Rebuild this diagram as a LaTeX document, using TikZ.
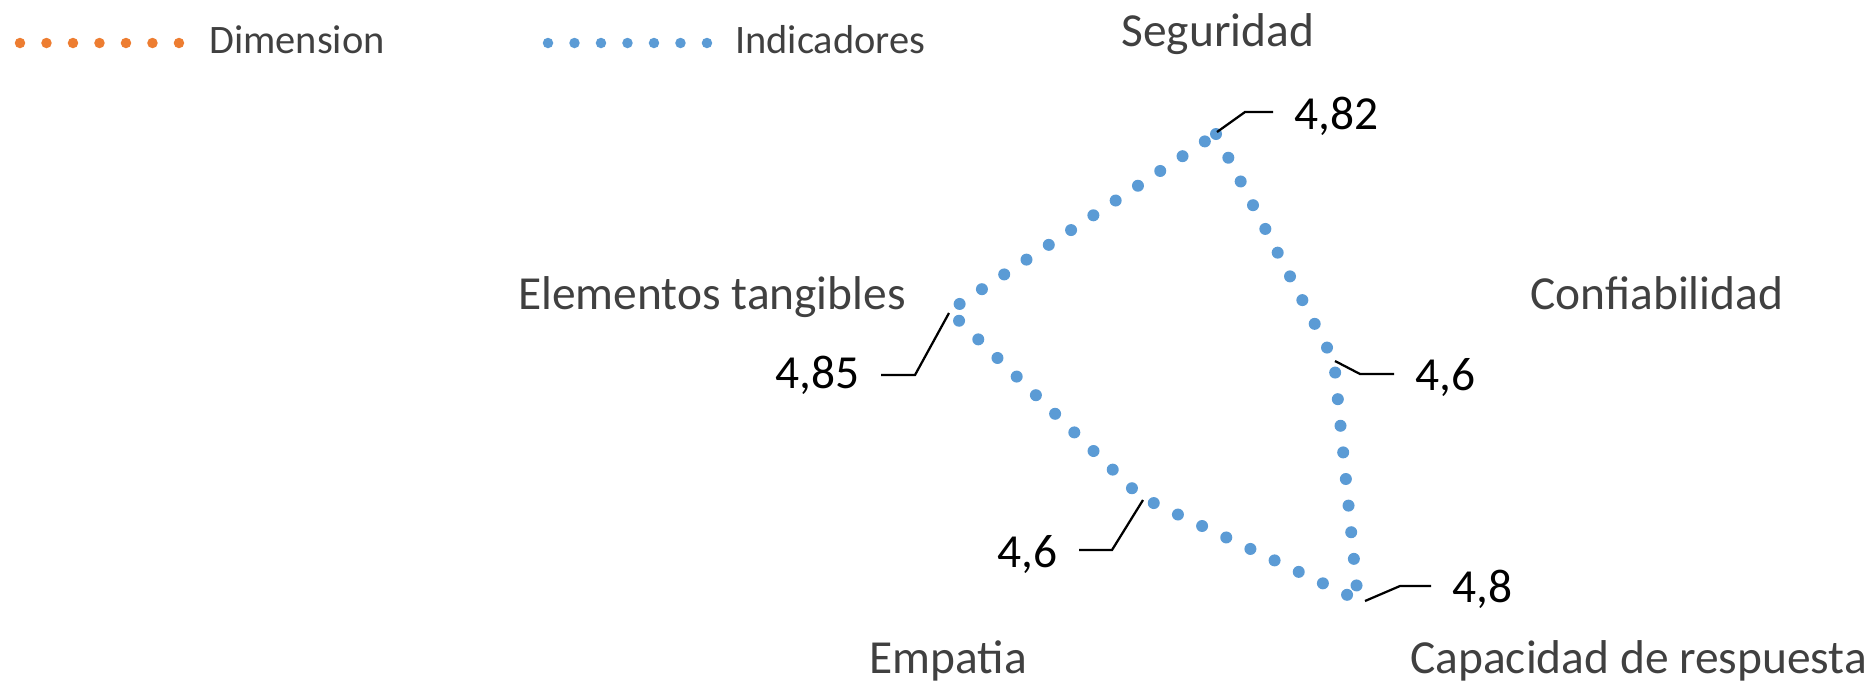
\documentclass[tikz,border=0pt]{standalone}
\usepackage{fontspec}
\setmainfont{Carlito}
\usepackage{xcolor}
\definecolor{indblue}{RGB}{91, 155, 213}
\definecolor{dimorange}{RGB}{237, 125, 49}
\definecolor{labgray}{RGB}{64, 64, 64}
\usepackage{tikz}
\usetikzlibrary{
    positioning
}
\newcommand{\catfont}{\fontsize{27}{32}\selectfont}
\newcommand{\legfont}{\fontsize{23}{27}\selectfont}
\tikzstyle{indic} = [
    indblue,
    line width=0.24cm,
    line cap=round,
    dash pattern=on 0pt off 0.535cm
]
\tikzstyle{legdots} = [
    line width=0.21cm,
    line cap=round,
    dash pattern=on 0pt off 0.53cm
]
\tikzstyle{leader} = [
    black,
    line width=0.045cm
]
\tikzstyle{cat} = [
    font=\catfont,
    text=labgray,
    inner sep=0
]
\tikzstyle{val} = [
    font=\catfont,
    text=black,
    inner ysep=0,
    inner xsep=0.42cm
]

\begin{document}
\begin{tikzpicture}[x=0.02cm, y=-0.02cm]
\useasboundingbox (0,0) rectangle (1874,684);

% Legende
\draw[legdots, dimorange] (20,43) -- (182,43);
\node[anchor=base west, inner sep=0, font=\legfont, text=labgray] (legdim) at (209,53) {Dimension};
\draw[legdots, indblue] (548,43) -- (710,43);
\node[anchor=base west, inner sep=0, font=\legfont, text=labgray] (legind) at (735,53) {Indicadores};

% Punkte der Reihe
\coordinate (seg) at (1216,134);
\coordinate (conf) at (1334,361);
\coordinate (cap) at (1358,600);
\coordinate (emp) at (1141,497);
\coordinate (elem) at (949,311);

% Indikatoren-Linie
\draw[indic] (seg) -- (conf) -- (cap) -- (emp) -- (elem) -- cycle;

% Achsenbeschriftung
\node[cat, anchor=base west] (lseg) at (1121,46) {Seguridad};
\node[cat, anchor=base west] (lelem) at (518,309) {Elementos tangibles};
\node[cat, anchor=base west] (lconf) at (1530,309) {Confiabilidad};
\node[cat, anchor=base west] (lemp) at (869,673) {Empatia};
\node[cat, anchor=base west] (lcap) at (1410,673) {Capacidad de respuesta};

% Werte
\node[val, anchor=base west] (vseg) at (1273,129) {4,82};
\node[val, anchor=base east] (velem) at (881,388) {4,85};
\node[val, anchor=base west] (vconf) at (1394,390) {4,6};
\node[val, anchor=base east] (vemp) at (1079,567) {4,6};
\node[val, anchor=base west] (vcap) at (1431,602) {4,8};

% Fuehrungslinien
\coordinate (kseg) at (1245,112);
\coordinate (kelem) at (915,375);
\coordinate (kconf) at (1360,374);
\coordinate (kemp) at (1112,550);
\coordinate (kcap) at (1400,586);
\draw[leader] ([shift={(1,-2)}]seg) -- (kseg) -- (kseg -| vseg.west);
\draw[leader] ([shift={(0,2)}]elem) -- (kelem) -- (kelem -| velem.east);
\draw[leader] ([shift={(1,0)}]conf) -- (kconf) -- (kconf -| vconf.west);
\draw[leader] ([shift={(2,3)}]emp) -- (kemp) -- (kemp -| vemp.east);
\draw[leader] ([shift={(7,1)}]cap) -- (kcap) -- (kcap -| vcap.west);

\end{tikzpicture}
\end{document}
